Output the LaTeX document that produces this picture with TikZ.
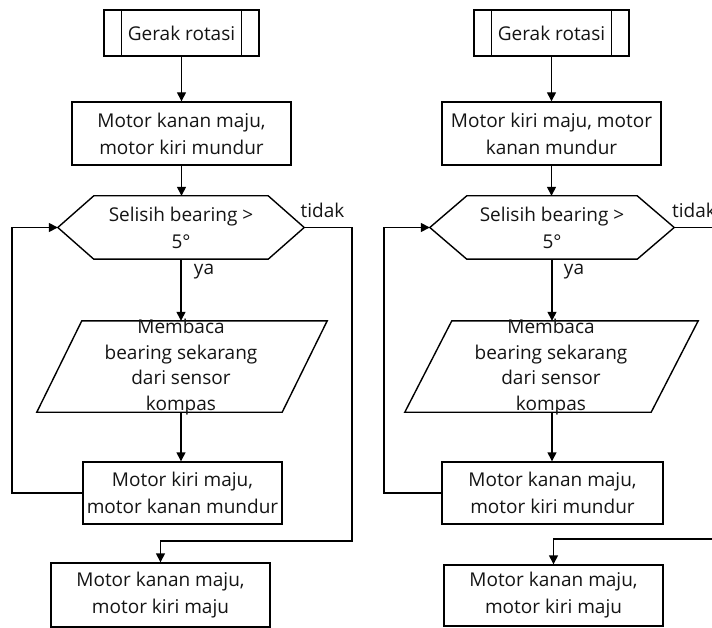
\documentclass[tikz,border=0pt]{standalone}
\usepackage{fontspec}
\setmainfont{Open Sans}
\usetikzlibrary{arrows.meta}
\begin{document}
\begin{tikzpicture}[x=1pt,y=-1pt,
  every node/.style={font=\fontsize{19}{27}\selectfont, text=black!92, align=center, inner sep=0pt},
  edge/.style={line width=1.4pt},
  flow/.style={edge, -{Triangle[length=9pt,width=9pt]}},
  procbox/.style={draw, edge, rectangle},
  frame/.style={rectangle, minimum width=#1}]
\useasboundingbox (0,0) rectangle (712,628);

% ---------- left flowchart ----------
\node[procbox, minimum width=155pt, minimum height=46pt] (ga) at (181.5,33) {Gerak rotasi};
\draw[edge] ([xshift=18pt]ga.north west) -- ([xshift=18pt]ga.south west);
\draw[edge] ([xshift=-18pt]ga.north east) -- ([xshift=-18pt]ga.south east);

\node[procbox, minimum width=219pt, minimum height=63pt] (ma) at (181.5,133.5) {Motor kanan maju,\\motor kiri mundur};

\node[frame=246pt, minimum height=63pt] (da) at (181,227.5) {Selisih bearing >\\5°};
\draw[edge] (da.west) -- ([xshift=36pt]da.north west) -- ([xshift=-36pt]da.north east)
  -- (da.east) -- ([xshift=-36pt]da.south east) -- ([xshift=36pt]da.south west) -- cycle;

\node[frame=290pt, minimum height=91pt] (ra) at (182,366.5) {};
\draw[edge] ([xshift=45pt]ra.north west) -- (ra.north east) -- ([xshift=-45pt]ra.south east)
  -- (ra.south west) -- cycle;
\node[font=\fontsize{19}{25.7}\selectfont] (rat) at (181,367) {Membaca\\bearing sekarang\\dari sensor\\kompas};

\node[procbox, minimum width=199pt, minimum height=62pt] (mb) at (182.5,493) {Motor kiri maju,\\motor kanan mundur};
\node[procbox, minimum width=219pt, minimum height=64pt] (mc) at (160.5,595) {Motor kanan maju,\\motor kiri maju};

\coordinate (ta) at (352,541);
\draw[flow] (ga.south) -- (ga.south |- ma.north);
\draw[flow] (ma.south) -- (ma.south |- da.north);
\draw[flow] (da.south) -- (da.south |- ra.north);
\draw[flow] (da.south |- ra.south) -- (da.south |- mb.north);
\draw[flow] (mb.west) -| ([xshift=-46pt]da.west) -- (da.west);
\draw[flow] (da.east) -| (ta) -| (mc.north);
\node (ty) at (322.5,210) {tidak};
\node (ya) at (204,272) {ya};

% ---------- right flowchart ----------
\node[procbox, minimum width=155pt, minimum height=46pt] (gb) at (551.5,33) {Gerak rotasi};
\draw[edge] ([xshift=18pt]gb.north west) -- ([xshift=18pt]gb.south west);
\draw[edge] ([xshift=-18pt]gb.north east) -- ([xshift=-18pt]gb.south east);

\node[procbox, minimum width=219pt, minimum height=63pt] (na) at (551.5,133.5) {Motor kiri maju, motor\\kanan mundur};

\node[frame=244pt, minimum height=63pt] (db) at (552,227.5) {Selisih bearing >\\5°};
\draw[edge] (db.west) -- ([xshift=37pt]db.north west) -- ([xshift=-37pt]db.north east)
  -- (db.east) -- ([xshift=-37pt]db.south east) -- ([xshift=37pt]db.south west) -- cycle;

\node[frame=293pt, minimum height=91pt] (rb) at (551.5,366.5) {};
\draw[edge] ([xshift=47pt]rb.north west) -- (rb.north east) -- ([xshift=-47pt]rb.south east)
  -- (rb.south west) -- cycle;
\node[font=\fontsize{19}{25.7}\selectfont] (rbt) at (551,367) {Membaca\\bearing sekarang\\dari sensor\\kompas};

\node[procbox, minimum width=221pt, minimum height=62pt] (nb) at (552.5,493) {Motor kanan maju,\\motor kiri mundur};
\node[procbox, minimum width=219pt, minimum height=61pt] (nc) at (553.5,595.5) {Motor kanan maju,\\motor kiri maju};

\coordinate (tb) at (724,539);
\draw[flow] (gb.south) -- (gb.south |- na.north);
\draw[flow] (na.south) -- (na.south |- db.north);
\draw[flow] (db.south) -- (db.south |- rb.north);
\draw[flow] (db.south |- rb.south) -- (db.south |- nb.north);
\draw[flow] (nb.west) -| ([xshift=-46pt]db.west) -- (db.west);
\draw[flow] (db.east) -| (tb) -| (nc.north);
\node (tz) at (694,210) {tidak};
\node (yb) at (574,272) {ya};
\end{tikzpicture}
\end{document}
